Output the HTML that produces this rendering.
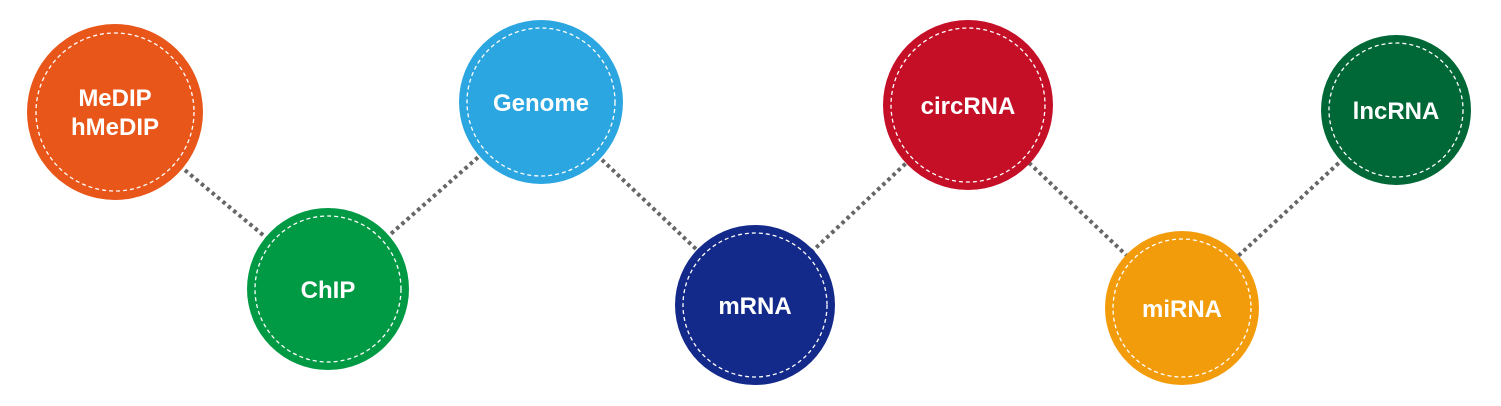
<!DOCTYPE html>
<html><head><style>
html,body{margin:0;padding:0;background:#fff;}
svg{display:block;}
text{font-family:"Liberation Sans",sans-serif;font-weight:bold;fill:#fff;font-size:24px;text-anchor:middle;}
</style></head><body>
<svg width="1501" height="406" viewBox="0 0 1501 406" xmlns="http://www.w3.org/2000/svg">
<g stroke="#666" stroke-width="4" stroke-dasharray="3.5 3.5" fill="none">
<line x1="115" y1="112" x2="328" y2="289"/>
<line x1="328" y1="289" x2="541" y2="102"/>
<line x1="541" y1="102" x2="755" y2="305"/>
<line x1="755" y1="305" x2="968" y2="105"/>
<line x1="968" y1="105" x2="1182" y2="308"/>
<line x1="1182" y1="308" x2="1396" y2="110"/>
</g>
<g stroke="none">
<circle cx="115" cy="112" r="88" fill="#E8561A"/>
<circle cx="328" cy="289" r="81" fill="#009A44"/>
<circle cx="541" cy="102" r="82" fill="#2CA6E0"/>
<circle cx="755" cy="305" r="80" fill="#142A8A"/>
<circle cx="968" cy="105" r="85" fill="#C40F27"/>
<circle cx="1182" cy="308" r="77" fill="#F39C0B"/>
<circle cx="1396" cy="110" r="75" fill="#006837"/>
</g>
<g fill="none" stroke="#fff" stroke-width="1.3" stroke-dasharray="4 3">
<circle cx="115" cy="112" r="79"/>
<circle cx="328" cy="289" r="73"/>
<circle cx="541" cy="102" r="74"/>
<circle cx="755" cy="305" r="72"/>
<circle cx="968" cy="105" r="77"/>
<circle cx="1182" cy="308" r="69"/>
<circle cx="1396" cy="110" r="67"/>
</g>
<text x="115" y="106">MeDIP</text>
<text x="115" y="135">hMeDIP</text>
<text x="328" y="298">ChIP</text>
<text x="541" y="111">Genome</text>
<text x="755" y="314">mRNA</text>
<text x="968" y="114">circRNA</text>
<text x="1182" y="317">miRNA</text>
<text x="1396" y="119">lncRNA</text>
</svg>
</body></html>
